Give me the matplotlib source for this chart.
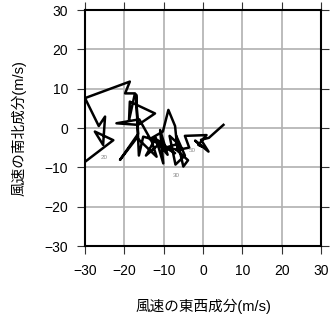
import matplotlib
matplotlib.use("Agg")
import matplotlib.pyplot as plt

plt.rcParams['font.family'] = ['Liberation Sans', 'Noto Sans CJK JP', 'DejaVu Sans']

u = [-30.0, -22.8, -27.5, -25.4, -24.9, -26.5, -30.0, -18.6, -19.8, -17.3,
     -18.8, -18.6, -12.2, -16.5, -22.0, -16.2, -13.0, -11.8, -16.8, -21.1,
     -16.5, -17.0, -16.3, -15.2, -10.5, -14.5, -12.0, -10.1, -10.9, -9.0,
     -12.5, -7.1, -13.5, -10.2, -8.8, -7.1, -6.5, -9.5, -6.3, -8.5,
     -7.0, -4.6, -6.8, -5.0, -3.8, -6.7, -3.5, -4.6, 0.9, -1.2,
     -0.3, -2.0, 1.4, -0.5, 1.5, 5.2]
v = [-8.6, -3.1, -0.9, -4.3, 2.9, 0.5, 7.6, 11.8, 8.8, 8.8,
     2.0, 6.7, 3.7, 0.8, 1.2, 2.2, -3.5, -7.3, -2.5, -8.1,
     -1.5, 8.5, -7.0, -2.2, -3.5, -7.0, -2.5, -9.0, -0.5, -6.8,
     -2.5, -6.4, -2.8, -0.9, 4.6, 0.5, -5.5, -5.0, -4.0, -2.0,
     -9.3, -7.0, -2.0, -9.8, -8.2, -5.6, -5.0, -2.0, -1.8, -4.3,
     -4.7, -3.2, -6.0, -3.0, -2.5, 0.8]

label_text = ["20", "30", "50"]
label_u = [-25.2, -6.9, -2.8]
label_v = [-7.6, -12.0, -5.6]

ticks = [-30, -20, -10, 0, 10, 20, 30]
tick_labels = ["\u221230", "\u221220", "\u221210", "0", "10", "20", "30"]

fig = plt.figure(figsize=(3.31, 3.18), dpi=100)
ax = fig.add_axes([85/331, 1-246/318, 236/331, 236/318])

ax.plot(u, v, color='black', lw=1.8, zorder=3)
for t, x, y in zip(label_text, label_u, label_v):
    ax.text(x, y, t, fontsize=4.5, color='#888888', ha='center', va='center', zorder=4)

ax.set_xlim(-30, 30)
ax.set_ylim(-30, 30)
ax.set_xticks(ticks)
ax.set_yticks(ticks)
ax.set_xticklabels(tick_labels, fontsize=10)
ax.set_yticklabels(tick_labels, fontsize=10)
ax.grid(True, color='#b0b0b0', lw=1.2, zorder=1)
ax.set_axisbelow(True)
ax.tick_params(axis='x', direction='out', length=6, width=0.8, color='#333333',
               top=True, pad=7)
ax.tick_params(axis='y', direction='out', length=6, width=0.8, color='#333333',
               right=True, pad=6)
for s in ax.spines.values():
    s.set_linewidth(1.5)
    s.set_color('black')

ax.set_xlabel("風速の東西成分(m/s)", fontsize=10.5, labelpad=15)
ax.set_ylabel("風速の南北成分(m/s)", fontsize=10.5, labelpad=13)

fig.savefig("out.png", dpi=100)
